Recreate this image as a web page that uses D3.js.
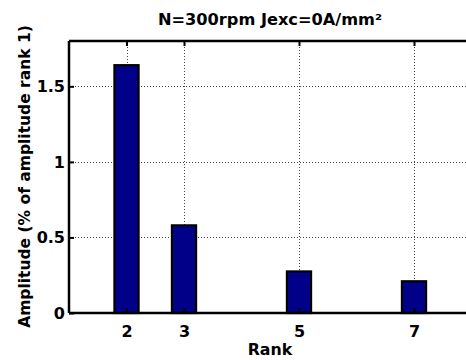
<!DOCTYPE html>
<html>
<head>
<meta charset="utf-8">
<script src="https://cdn.jsdelivr.net/npm/d3@7"></script>
<style>
  html, body { margin: 0; padding: 0; background: #fff; }
  svg { display: block; }
  text { font-family: "DejaVu Sans", sans-serif; font-weight: bold; fill: #000; }
</style>
</head>
<body>
<svg id="chart" width="466" height="360"></svg>
<script>
// Harmonic ranks and their amplitudes (% of amplitude of rank 1)
const ranks = [2, 3, 5, 7];
const amplitudes = [1.64, 0.58, 0.275, 0.21];
const yTicks = [0, 0.5, 1, 1.5];
const yTickLabels = ["0", "0.5", "1", "1.5"];
const titleText = "N=300rpm Jexc=0A/mm²";
const xLabel = "Rank";
const yLabel = "Amplitude (% of amplitude rank 1)";

const svg = d3.select("#chart");
const plotLeft = 69, plotTop = 41, plotBottom = 313;
const unit = 57.5; // px per rank
const plotRight = plotLeft + unit * 7;

const x = d3.scaleLinear().domain([1, 8]).range([plotLeft, plotRight]);
const y = d3.scaleLinear().domain([0, 1.8]).range([plotBottom, plotTop]);
const barWidth = 0.42; // in rank units

// Dotted grid
const grid = svg.append("g")
  .attr("stroke", "#444").attr("stroke-width", 1)
  .attr("stroke-dasharray", "1,2").attr("shape-rendering", "crispEdges");
grid.selectAll("line.gx").data(ranks).join("line").attr("class", "gx")
  .attr("x1", d => Math.round(x(d)) + 0.5).attr("x2", d => Math.round(x(d)) + 0.5)
  .attr("y1", plotTop).attr("y2", plotBottom);
grid.selectAll("line.gy").data(yTicks.filter(d => d > 0)).join("line").attr("class", "gy")
  .attr("x1", plotLeft).attr("x2", plotRight)
  .attr("y1", d => Math.round(y(d)) + 0.5).attr("y2", d => Math.round(y(d)) + 0.5);

// Bars
svg.append("g").selectAll("rect").data(ranks).join("rect")
  .attr("x", (d) => x(d - barWidth / 2))
  .attr("width", x(1 + barWidth) - x(1))
  .attr("y", (d, i) => y(amplitudes[i]))
  .attr("height", (d, i) => y(0) - y(amplitudes[i]))
  .attr("fill", "#000088")
  .attr("stroke", "#000")
  .attr("stroke-width", 2.2);

// Axes with inward ticks
const xAxisB = d3.axisBottom(x).tickValues(ranks).tickSize(-5).tickPadding(12.5).tickFormat(d3.format("d"));
const xAxisT = d3.axisTop(x).tickValues(ranks).tickSize(-5).tickFormat("");
const yAxisL = d3.axisLeft(y).tickValues(yTicks).tickSize(-5).tickPadding(4)
  .tickFormat((d, i) => yTickLabels[i]);
const yAxisR = d3.axisRight(y).tickValues(yTicks).tickSize(-5).tickFormat("");

function styleAxis(g) {
  g.select(".domain").attr("stroke", "#000").attr("stroke-width", 2.5);
  g.selectAll(".tick line").attr("stroke", "#000").attr("stroke-width", 2);
  g.selectAll(".tick text").style("font-size", "16px")
    .style("font-family", "'DejaVu Sans', sans-serif").style("font-weight", "bold");
}

svg.append("g").attr("transform", `translate(0,${plotBottom})`).call(xAxisB).call(styleAxis)
  .call(g => g.select(".domain").attr("d", `M${plotLeft},0H${plotRight}`));
svg.append("g").attr("transform", `translate(0,${plotTop})`).call(xAxisT).call(styleAxis)
  .call(g => g.select(".domain").attr("d", `M${plotLeft},0H${plotRight}`));
svg.append("g").attr("transform", `translate(${plotLeft},0)`).call(yAxisL).call(styleAxis)
  .call(g => g.select(".domain").attr("d", `M0,${plotTop}V${plotBottom}`));
svg.append("g").attr("transform", `translate(${plotRight},0)`).call(yAxisR).call(styleAxis)
  .call(g => g.select(".domain").attr("d", `M0,${plotTop}V${plotBottom}`));

// Title and axis labels
svg.append("text").attr("x", 270).attr("y", 24.5).attr("text-anchor", "middle")
  .style("font-size", "16.2px").text(titleText);
svg.append("text").attr("x", 270).attr("y", 355).attr("text-anchor", "middle")
  .style("font-size", "15.8px").text(xLabel);
svg.append("text").attr("transform", `translate(29.5,176.5) rotate(-90)`)
  .attr("text-anchor", "middle").style("font-size", "15.5px").text(yLabel);
</script>
</body>
</html>
